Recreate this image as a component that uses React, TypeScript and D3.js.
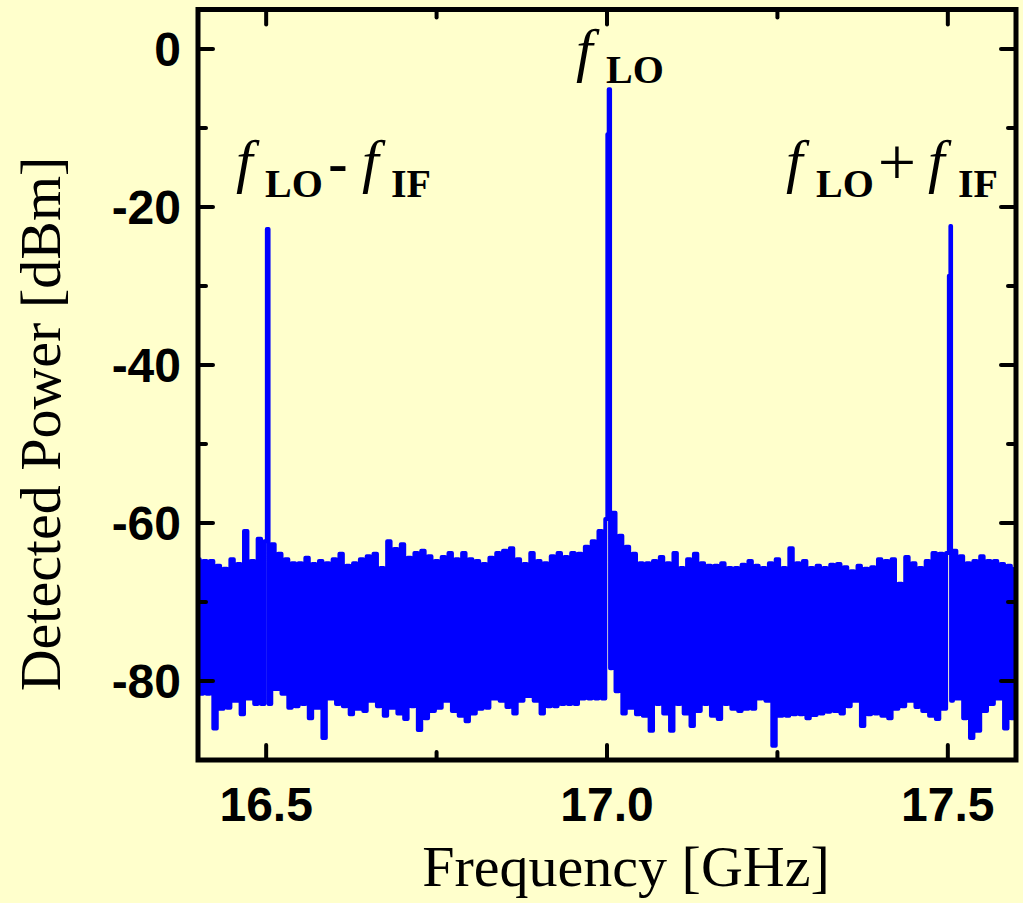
import React, { useEffect, useRef } from 'react';
import * as d3 from 'd3';

const width = 1023;
const height = 903;
const plot = { left: 198, right: 1016, top: 9.5, bottom: 760 };

// noise floor sampled every 10 MHz from 16.40 GHz: upper tips (dBm)
const freqStart = 16.4;
const freqStep = 0.01;
const noiseTop = [
  -64.6, -64.8, -64.8, -65.4, -65.8, -64.6, -65.2, -61.0, -64.8, -62.0,
  -62.3, -62.7, -63.9, -64.6, -65.1, -65.1, -64.4, -65.2, -64.8, -65.1,
  -64.6, -63.9, -65.4, -65.1, -64.6, -64.2, -63.9, -65.7, -62.3, -63.3,
  -62.7, -64.4, -63.8, -63.5, -64.2, -64.8, -64.3, -63.8, -64.6, -63.8,
  -64.6, -64.8, -65.2, -64.4, -63.8, -63.5, -63.2, -64.6, -65.2, -63.8,
  -64.8, -65.1, -64.2, -63.8, -64.3, -63.8, -63.9, -63.0, -62.3, -61.0,
  -59.5, -58.7, -61.6, -63.0, -63.9, -65.1, -65.1, -64.8, -64.3, -65.1,
  -63.8, -65.7, -64.6, -63.9, -65.1, -65.4, -65.4, -65.1, -65.7, -65.7,
  -65.3, -64.8, -65.4, -65.7, -65.1, -64.6, -65.7, -63.2, -65.1, -64.8,
  -65.7, -65.4, -65.7, -65.3, -65.2, -65.6, -66.1, -65.4, -65.8, -65.6,
  -64.6, -64.8, -64.6, -67.7, -64.3, -65.1, -65.7, -64.8, -63.8, -63.9,
  -63.8, -63.5, -64.2, -65.1, -64.8, -64.2, -64.8, -64.8, -65.2, -65.4,
  -65.8,
];
// lower tips, 5 MHz after each upper tip
const noiseBottom = [
  -81.6, -81.6, -86.0, -83.5, -83.4, -82.5, -84.2, -82.2, -82.9, -82.9,
  -82.9, -81.0, -81.6, -83.4, -83.2, -82.9, -84.7, -83.4, -87.2, -82.2,
  -82.9, -83.2, -84.2, -83.5, -83.8, -82.5, -83.2, -84.4, -83.4, -84.1,
  -84.8, -83.2, -86.2, -84.7, -83.8, -83.4, -82.5, -83.8, -84.4, -85.1,
  -84.1, -83.5, -83.4, -82.2, -82.5, -83.3, -84.1, -82.5, -81.9, -82.5,
  -84.1, -83.2, -83.2, -82.9, -82.9, -82.9, -82.2, -82.2, -82.2, -82.2,
  -78.4, -81.3, -84.1, -83.4, -84.2, -84.4, -86.3, -82.9, -84.1, -86.3,
  -82.9, -84.1, -85.7, -83.8, -82.9, -84.4, -84.8, -82.9, -83.5, -83.8,
  -83.5, -83.5, -82.2, -82.5, -88.2, -84.4, -84.4, -84.2, -84.2, -84.7,
  -84.3, -84.1, -83.9, -83.8, -84.1, -83.2, -82.5, -85.7, -84.2, -84.1,
  -84.4, -84.7, -83.5, -83.2, -82.5, -83.3, -83.8, -84.4, -84.8, -83.5,
  -82.5, -82.2, -84.7, -87.2, -86.3, -83.8, -82.9, -82.2, -86.0, -84.7,
  -82.5,
];
// mixing products: f_LO - f_IF, f_LO, f_LO + f_IF
const peakFreqs = [16.502, 17.001, 17.004, 17.503, 17.5045];
const peakPowers = [-22.8, -10.8, -5.1, -28.7, -22.4];

const xTicks = [16.5, 17.0, 17.5];
const xMinorTicks = [16.75, 17.25];
const yTicks = [0, -20, -40, -60, -80];
const yMinorTicks = [-10, -30, -50, -70];

const bg = '#FFFFCC';
const sansBold = '"Liberation Sans", Arial, sans-serif';
const serif = '"Liberation Serif", "Times New Roman", serif';

function App() {
  const ref = useRef<SVGSVGElement>(null);

  useEffect(() => {
    const svg = d3.select(ref.current);
    svg.selectAll('*').remove();

    const x = d3.scaleLinear().domain([16.4, 17.6]).range([plot.left, plot.right]);
    const y = d3.scaleLinear().domain([-90, 5]).range([plot.bottom, plot.top]);

    svg.append('rect').attr('width', width).attr('height', height).attr('fill', bg);

    svg.append('clipPath').attr('id', 'plotClip')
      .append('rect')
      .attr('x', plot.left).attr('y', plot.top)
      .attr('width', plot.right - plot.left).attr('height', plot.bottom - plot.top);

    // trace: upper / lower tips alternate, peaks slotted in by frequency
    const pts: [number, number][] = [];
    noiseTop.forEach((v, i) => {
      const f = freqStart + i * freqStep;
      pts.push([f, v]);
      pts.push([f + freqStep / 2, noiseBottom[i]]);
    });
    peakFreqs.forEach((f, i) => pts.push([f, peakPowers[i]]));
    pts.sort((a, b) => a[0] - b[0]);

    svg.append('path')
      .datum(pts)
      .attr('clip-path', 'url(#plotClip)')
      .attr('fill', 'none')
      .attr('stroke', '#0000FF')
      .attr('stroke-width', 4)
      .attr('stroke-linejoin', 'round')
      .attr('stroke-linecap', 'round')
      .attr('d', d3.line<[number, number]>()
        .curve(d3.curveStep)
        .x((d) => x(d[0]))
        .y((d) => y(d[1])));

    // frame
    svg.append('rect')
      .attr('x', plot.left).attr('y', plot.top)
      .attr('width', plot.right - plot.left).attr('height', plot.bottom - plot.top)
      .attr('fill', 'none').attr('stroke', 'black').attr('stroke-width', 5);

    const ticks = svg.append('g').attr('stroke', 'black').attr('stroke-width', 4).attr('stroke-linecap', 'round');
    const major = 15;
    const minor = 8;
    const xt = xTicks.map((v) => ({ v, len: major })).concat(xMinorTicks.map((v) => ({ v, len: minor })));
    xt.forEach((t) => {
      ticks.append('line').attr('x1', x(t.v)).attr('x2', x(t.v)).attr('y1', plot.bottom).attr('y2', plot.bottom - t.len);
      ticks.append('line').attr('x1', x(t.v)).attr('x2', x(t.v)).attr('y1', plot.top).attr('y2', plot.top + t.len);
    });
    const yt = yTicks.map((v) => ({ v, len: major })).concat(yMinorTicks.map((v) => ({ v, len: minor })));
    yt.forEach((t) => {
      ticks.append('line').attr('y1', y(t.v)).attr('y2', y(t.v)).attr('x1', plot.left).attr('x2', plot.left + t.len);
      ticks.append('line').attr('y1', y(t.v)).attr('y2', y(t.v)).attr('x1', plot.right).attr('x2', plot.right - t.len);
    });

    svg.append('g').selectAll('text')
      .data(xTicks).enter().append('text')
      .attr('x', (d) => x(d)).attr('y', 821)
      .attr('text-anchor', 'middle')
      .style('font-family', sansBold).style('font-weight', 'bold').style('font-size', '48px')
      .text((d) => d.toFixed(1));

    svg.append('g').selectAll('text')
      .data(yTicks).enter().append('text')
      .attr('x', 181).attr('y', (d) => y(d) + 17)
      .attr('text-anchor', 'end')
      .style('font-family', sansBold).style('font-weight', 'bold').style('font-size', '48px')
      .text((d) => String(d));

    svg.append('text')
      .attr('x', 626).attr('y', 886)
      .attr('text-anchor', 'middle')
      .style('font-family', serif).style('font-size', '58px')
      .text('Frequency [GHz]');

    svg.append('text')
      .attr('transform', 'translate(60,424)rotate(-90)')
      .attr('text-anchor', 'middle')
      .style('font-family', serif).style('font-size', '58px')
      .text('Detected Power [dBm]');

    // peak labels
    const label = (parts: { t: string; x: number; y: number; kind: string }[]) => {
      parts.forEach((p) => {
        const el = svg.append('text').attr('x', p.x).attr('y', p.y).style('font-family', serif).text(p.t);
        if (p.kind === 'f') el.style('font-style', 'italic').style('font-size', '60px');
        if (p.kind === 'sub') el.style('font-weight', 'bold').style('font-size', '40px');
        if (p.kind === 'op') el.style('font-weight', 'bold').style('font-size', '58px').attr('text-anchor', 'middle');
        if (p.kind === 'plus') el.style('font-size', '68px').attr('text-anchor', 'middle');
      });
    };
    label([
      { t: 'f', x: 236, y: 181, kind: 'f' },
      { t: 'LO', x: 265, y: 197, kind: 'sub' },
      { t: '-', x: 338, y: 182, kind: 'op' },
      { t: 'f', x: 362, y: 181, kind: 'f' },
      { t: 'IF', x: 391, y: 197, kind: 'sub' },
    ]);
    label([
      { t: 'f', x: 576, y: 70, kind: 'f' },
      { t: 'LO', x: 606, y: 83, kind: 'sub' },
    ]);
    label([
      { t: 'f', x: 786, y: 181, kind: 'f' },
      { t: 'LO', x: 816, y: 197, kind: 'sub' },
      { t: '+', x: 897, y: 185, kind: 'plus' },
      { t: 'f', x: 928, y: 181, kind: 'f' },
      { t: 'IF', x: 958, y: 197, kind: 'sub' },
    ]);
  }, []);

  return (
    <svg ref={ref} width={width} height={height}
      style={{ position: 'absolute', left: 0, top: 0, display: 'block' }} />
  );
}

export default App;
